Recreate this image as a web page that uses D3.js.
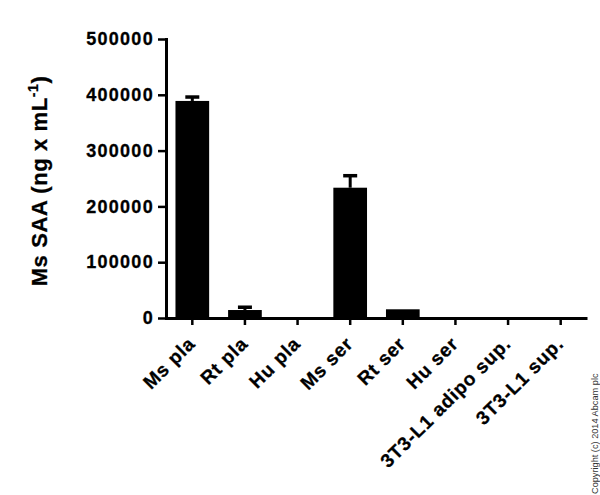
<!DOCTYPE html>
<html>
<head>
<meta charset="utf-8">
<script src="https://cdn.jsdelivr.net/npm/d3@7"></script>
<style>
    body { margin: 0; background: #fff; }
    svg { display: block; font-family: "Liberation Sans", Arial, sans-serif; }
</style>
</head>
<body>
<svg id="chart" width="600" height="495"></svg>
<script>
// values
const samples = ["Ms pla", "Rt pla", "Hu pla", "Ms ser", "Rt ser", "Hu ser", "3T3-L1 adipo sup.", "3T3-L1 sup."];
const means = [389000, 14300, 0, 233500, 15600, 0, 0, 0];
const errors = [7000, 5000, 0, 21500, 0, 0, 0, 0];
const yTicks = [0, 100000, 200000, 300000, 400000, 500000];

const data = samples.map((s, i) => ({ sample: s, mean: means[i], err: errors[i] }));

const svg = d3.select("#chart");

const x = d3.scaleBand()
    .domain(samples)
    .range([166, 587])
    .paddingInner(0.36)
    .paddingOuter(0.18);

const y = d3.scaleLinear()
    .domain([0, 500000])
    .range([318, 39]);

// bars
svg.append("g")
    .selectAll("rect")
    .data(data)
    .join("rect")
    .attr("x", d => x(d.sample))
    .attr("width", x.bandwidth())
    .attr("y", d => y(d.mean))
    .attr("height", d => y(0) - y(d.mean))
    .attr("fill", "#000");

// error bars (upper only)
const eb = svg.append("g")
    .selectAll("g")
    .data(data.filter(d => d.err > 0))
    .join("g")
    .attr("transform", d => `translate(${x(d.sample) + x.bandwidth() / 2},0)`);

eb.append("line")
    .attr("y1", d => y(d.mean))
    .attr("y2", d => y(d.mean + d.err))
    .attr("stroke", "#000")
    .attr("stroke-width", 3);

eb.append("line")
    .attr("x1", -7)
    .attr("x2", 7)
    .attr("y1", d => y(d.mean + d.err))
    .attr("y2", d => y(d.mean + d.err))
    .attr("stroke", "#000")
    .attr("stroke-width", 3.5);

// y axis
const yAxis = svg.append("g")
    .attr("transform", "translate(166,0)")
    .call(d3.axisLeft(y).tickValues(yTicks).tickFormat(d3.format("d")).tickSize(8).tickSizeOuter(0).tickPadding(4));

yAxis.select(".domain").attr("stroke-width", 3).attr("stroke-linecap", "square");
yAxis.selectAll(".tick line").attr("stroke-width", 2.5);
yAxis.selectAll(".tick text")
    .attr("font-size", 18)
    .attr("font-weight", "bold")
    .attr("letter-spacing", 1.3)
    .attr("fill", "#000")
    .attr("stroke", "#000")
    .attr("stroke-width", 0.3);

// x axis
const xAxis = svg.append("g")
    .attr("transform", "translate(0,318)")
    .call(d3.axisBottom(x).tickSize(7).tickSizeOuter(0));

xAxis.select(".domain").attr("stroke-width", 3);
xAxis.selectAll(".tick line").attr("stroke-width", 2.5);
xAxis.selectAll(".tick text")
    .attr("font-size", 19)
    .attr("font-weight", "bold")
    .attr("letter-spacing", 0.8)
    .attr("fill", "#000")
    .attr("stroke", "#000")
    .attr("stroke-width", 0.3)
    .attr("text-anchor", "end")
    .attr("dy", null)
    .attr("y", null)
    .attr("transform", "translate(4,27) rotate(-45)");

// y axis title
const title = svg.append("text")
    .attr("transform", "translate(47,181) rotate(-90)")
    .attr("text-anchor", "middle")
    .attr("font-size", 22)
    .attr("font-weight", "bold")
    .attr("letter-spacing", 0.6)
    .attr("fill", "#000")
    .attr("stroke", "#000")
    .attr("stroke-width", 0.3);
title.append("tspan").text("Ms SAA (ng x mL");
title.append("tspan").attr("font-size", 14).attr("dy", -9).text("-1");
title.append("tspan").attr("dy", 9).text(")");

// copyright
svg.append("text")
    .attr("transform", "translate(598,494) rotate(-90)")
    .attr("font-size", 9.2)
    .attr("fill", "#333")
    .text("Copyright (c) 2014 Abcam plc");
</script>
</body>
</html>
